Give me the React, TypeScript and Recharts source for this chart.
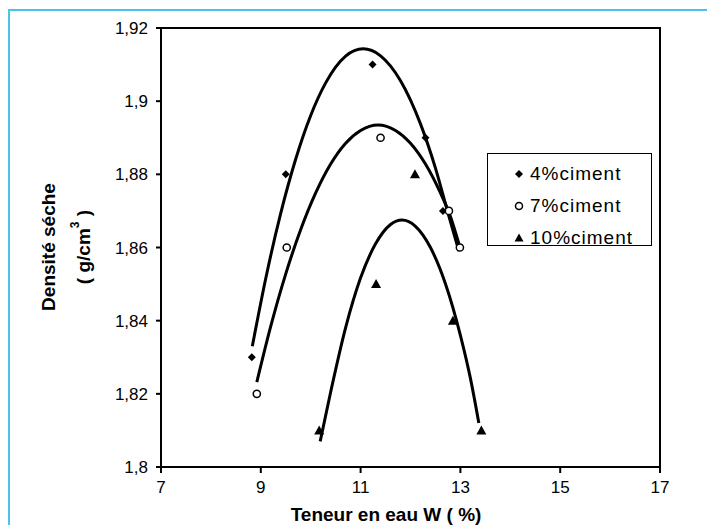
import React from 'react'
import {
  ComposedChart,
  Line,
  Scatter,
  XAxis,
  YAxis,
  ReferenceArea,
  Label,
} from 'recharts'

// measured points (water content %, dry density)
const points4 = [
  { x: 8.82, y: 1.83 },
  { x: 9.5, y: 1.88 },
  { x: 11.24, y: 1.91 },
  { x: 12.3, y: 1.89 },
  { x: 12.65, y: 1.87 },
]
const points7 = [
  { x: 8.92, y: 1.82 },
  { x: 9.52, y: 1.86 },
  { x: 11.4, y: 1.89 },
  { x: 12.77, y: 1.87 },
  { x: 12.99, y: 1.86 },
]
const points10 = [
  { x: 10.17, y: 1.81 },
  { x: 11.31, y: 1.85 },
  { x: 12.09, y: 1.88 },
  { x: 12.85, y: 1.84 },
  { x: 13.42, y: 1.81 },
]

// trend curves
const curve4 = [
  { x: 8.83, y: 1.833 },
  { x: 9.1, y: 1.8516 },
  { x: 9.4, y: 1.8694 },
  { x: 9.7, y: 1.8842 },
  { x: 10.0, y: 1.8961 },
  { x: 10.3, y: 1.905 },
  { x: 10.7, y: 1.9123 },
  { x: 11.05, y: 1.9143 },
  { x: 11.4, y: 1.9124 },
  { x: 11.8, y: 1.9056 },
  { x: 12.2, y: 1.8938 },
  { x: 12.5, y: 1.8817 },
  { x: 12.75, y: 1.8695 },
  { x: 12.97, y: 1.859 },
]
const curve7 = [
  { x: 8.92, y: 1.8232 },
  { x: 9.2, y: 1.8385 },
  { x: 9.5, y: 1.8528 },
  { x: 9.8, y: 1.8649 },
  { x: 10.1, y: 1.8749 },
  { x: 10.4, y: 1.8828 },
  { x: 10.7, y: 1.8885 },
  { x: 11.0, y: 1.892 },
  { x: 11.35, y: 1.8935 },
  { x: 11.7, y: 1.892 },
  { x: 12.0, y: 1.8885 },
  { x: 12.3, y: 1.8828 },
  { x: 12.6, y: 1.8749 },
  { x: 12.8, y: 1.8685 },
  { x: 12.97, y: 1.861 },
]
const curve10 = [
  { x: 10.19, y: 1.807 },
  { x: 10.4, y: 1.8205 },
  { x: 10.7, y: 1.8381 },
  { x: 11.0, y: 1.8517 },
  { x: 11.3, y: 1.861 },
  { x: 11.6, y: 1.8663 },
  { x: 11.83, y: 1.8675 },
  { x: 12.1, y: 1.8658 },
  { x: 12.4, y: 1.86 },
  { x: 12.7, y: 1.8501 },
  { x: 13.0, y: 1.836 },
  { x: 13.2, y: 1.8243 },
  { x: 13.37, y: 1.812 },
]

const xTicks = [7, 9, 11, 13, 15, 17]
const yTicks = [1.8, 1.82, 1.84, 1.86, 1.88, 1.9, 1.92]
const legendLabels = ['4%ciment', '7%ciment', '10%ciment']

const FONT = 'Arial, "Liberation Sans", sans-serif'

const fmt = (v: number) => String(Number(v.toFixed(2))).replace('.', ',')

const Diamond = ({ cx, cy, s = 4 }: any) => (
  <polygon
    points={`${cx},${cy - s} ${cx + s},${cy} ${cx},${cy + s} ${cx - s},${cy}`}
    fill="#000"
  />
)
const Ring = ({ cx, cy, r = 3.6 }: any) => (
  <circle cx={cx} cy={cy} r={r} fill="#fff" stroke="#000" strokeWidth={1.5} />
)
const Tri = ({ cx, cy, s = 5 }: any) => (
  <polygon
    points={`${cx},${cy - s} ${cx + s},${cy + s * 0.8} ${cx - s},${cy + s * 0.8}`}
    fill="#000"
  />
)

function LegendBox() {
  const markers = [
    <Diamond cx={6} cy={6} s={4} />,
    <Ring cx={6} cy={6} r={3.5} />,
    <Tri cx={6} cy={6} s={4.5} />,
  ]
  return (
    <div
      style={{
        position: 'absolute',
        left: 487,
        top: 153,
        width: 163,
        height: 91,
        border: '1.5px solid #000',
        background: '#fff',
        fontFamily: FONT,
      }}
    >
      {legendLabels.map((lbl, i) => (
        <div
          key={lbl}
          style={{
            position: 'absolute',
            left: 25,
            top: 8 + i * 32,
            height: 24,
            display: 'flex',
            alignItems: 'center',
            fontSize: 19,
            letterSpacing: 1,
            whiteSpace: 'nowrap',
          }}
        >
          <svg width={12} height={12} style={{ marginRight: 5 }}>
            {markers[i]}
          </svg>
          {lbl}
        </div>
      ))}
    </div>
  )
}

export default function App() {
  return (
    <div
      style={{
        position: 'absolute',
        left: 0,
        top: 0,
        width: 707,
        height: 525,
        background: '#fff',
        overflow: 'hidden',
        fontFamily: FONT,
      }}
    >
      {/* blue frame round the figure */}
      <div
        style={{
          position: 'absolute',
          left: 8,
          top: 9,
          right: -10,
          bottom: -10,
          borderTop: '2px solid #4ec0ee',
          borderLeft: '2px solid #4ec0ee',
        }}
      />
      <ComposedChart
        width={707}
        height={525}
        margin={{ top: 28, right: 47, bottom: 0, left: 81 }}
        style={{ position: 'absolute', left: 0, top: 0 }}
      >
        <XAxis
          dataKey="x"
          type="number"
          domain={[7, 17]}
          ticks={xTicks}
          allowDataOverflow
          height={58}
          stroke="#000"
          strokeWidth={2}
          tickSize={6}
          tickMargin={8}
          tick={{ fill: '#000', fontSize: 17, fontFamily: FONT }}
        >
          <Label
            content={() => (
              <text
                x={386}
                y={521}
                textAnchor="middle"
                fontSize={19}
                fontWeight="bold"
                fontFamily={FONT}
                fill="#000"
              >
                Teneur en eau W ( %)
              </text>
            )}
          />
        </XAxis>
        <YAxis
          dataKey="y"
          type="number"
          domain={[1.8, 1.92]}
          ticks={yTicks}
          allowDataOverflow
          width={80}
          stroke="#000"
          strokeWidth={2}
          tickSize={5}
          tickMargin={8}
          tickFormatter={fmt}
          tick={{ fill: '#000', fontSize: 17, fontFamily: FONT }}
        >
          <Label
            content={() => (
              <g fontFamily={FONT} fontWeight="bold" fill="#000" fontSize={19}>
                <text x={48} y={247} transform="rotate(-90 48 247)" textAnchor="middle" dominantBaseline="central">
                  Densité séche
                </text>
                <text x={83} y={247} transform="rotate(-90 83 247)" textAnchor="middle" dominantBaseline="central">
                  ( g/cm
                  <tspan dy={-8} fontSize={12}>3</tspan>
                  <tspan dy={8}> )</tspan>
                </text>
              </g>
            )}
          />
        </YAxis>
        <ReferenceArea
          x1={7}
          x2={17}
          y1={1.8}
          y2={1.92}
          fill="none"
          stroke="#000"
          strokeWidth={2}
          ifOverflow="visible"
        />
        <Line
          data={curve4}
          dataKey="y"
          type="monotone"
          stroke="#000"
          strokeWidth={3}
          dot={false}
          activeDot={false}
          isAnimationActive={false}
        />
        <Line
          data={curve7}
          dataKey="y"
          type="monotone"
          stroke="#000"
          strokeWidth={3}
          dot={false}
          activeDot={false}
          isAnimationActive={false}
        />
        <Line
          data={curve10}
          dataKey="y"
          type="monotone"
          stroke="#000"
          strokeWidth={3}
          dot={false}
          activeDot={false}
          isAnimationActive={false}
        />
        <Scatter data={points4} dataKey="y" shape={(p: any) => <Diamond cx={p.cx} cy={p.cy} />} isAnimationActive={false} />
        <Scatter data={points7} dataKey="y" shape={(p: any) => <Ring cx={p.cx} cy={p.cy} />} isAnimationActive={false} />
        <Scatter data={points10} dataKey="y" shape={(p: any) => <Tri cx={p.cx} cy={p.cy} />} isAnimationActive={false} />
      </ComposedChart>
      <LegendBox />
    </div>
  )
}
